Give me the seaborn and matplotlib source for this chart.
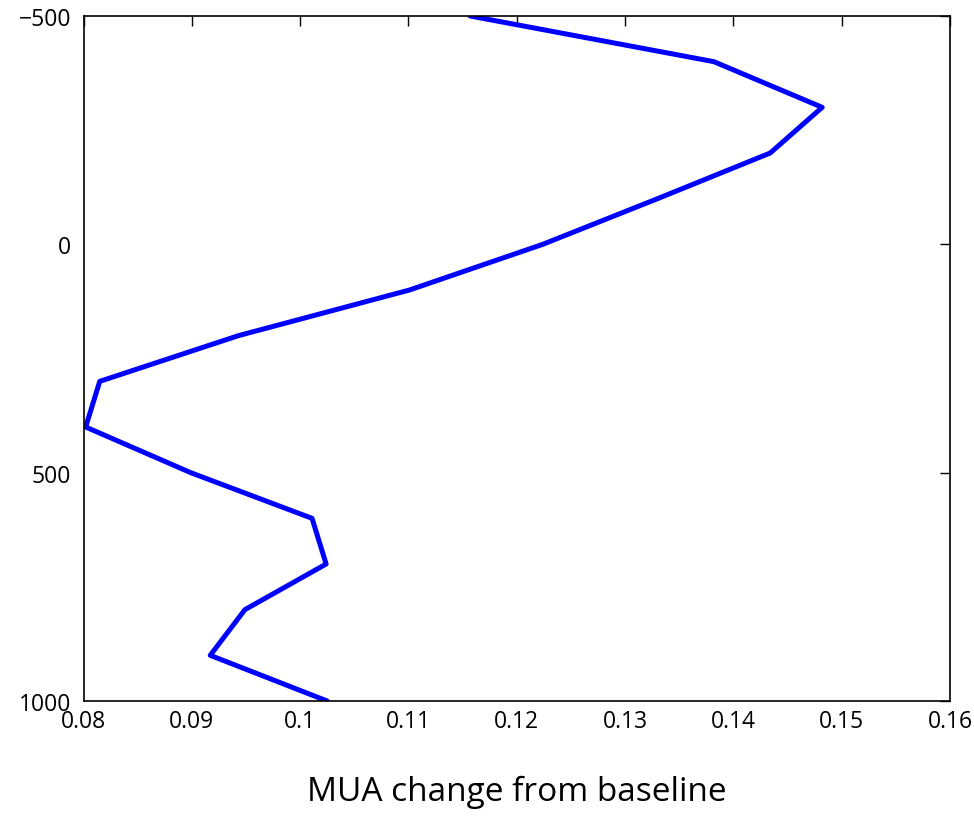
import matplotlib
matplotlib.use("Agg")
import matplotlib.pyplot as plt
import seaborn as sns
import pandas as pd

depth = [-500, -400, -300, -200, -100, 0, 100, 200, 300, 400, 500, 600, 700, 800, 900, 1000]
mua = [0.1157, 0.1382, 0.1482, 0.1434, 0.1330, 0.1224, 0.1101, 0.0943, 0.0815, 0.0802,
       0.0899, 0.1011, 0.1024, 0.0949, 0.0917, 0.1025]
xticks = [0.08, 0.09, 0.10, 0.11, 0.12, 0.13, 0.14, 0.15, 0.16]
xticklabels = ["0.08", "0.09", "0.1", "0.11", "0.12", "0.13", "0.14", "0.15", "0.16"]
yticks = [-500, 0, 500, 1000]
yticklabels = ["\u2212500", "0", "500", "1000"]

sns.set_theme(style="white")
plt.rcParams["font.family"] = ["Open Sans", "DejaVu Sans"]

df = pd.DataFrame({"depth": depth, "mua": mua})

fig = plt.figure(figsize=(9.74, 8.2), dpi=100)
ax = fig.add_axes([83.5 / 974, 1 - 702 / 820, (950 - 83.5) / 974, (702 - 17) / 820])
sns.lineplot(data=df, x="mua", y="depth", sort=False, estimator=None,
             color=(0, 0, 1), linewidth=3.6, ax=ax)

ax.set_xlim(0.08, 0.16)
ax.set_ylim(1000, -500)
ax.set_xticks(xticks)
ax.set_xticklabels(xticklabels)
ax.set_yticks(yticks)
ax.set_yticklabels(yticklabels)
ax.tick_params(direction="in", length=7, width=1, top=True, right=True,
               labelsize=16.5, colors="black")
ax.tick_params(axis="x", pad=6)
ax.tick_params(axis="y", pad=9)
for s in ax.spines.values():
    s.set_visible(True)
    s.set_color("black")
    s.set_linewidth(1.2)
ax.set_ylabel("")
ax.set_xlabel("MUA change from baseline", fontsize=24, labelpad=30, color="black")
ax.grid(False)

fig.savefig("out.png", dpi=100, facecolor="white")
